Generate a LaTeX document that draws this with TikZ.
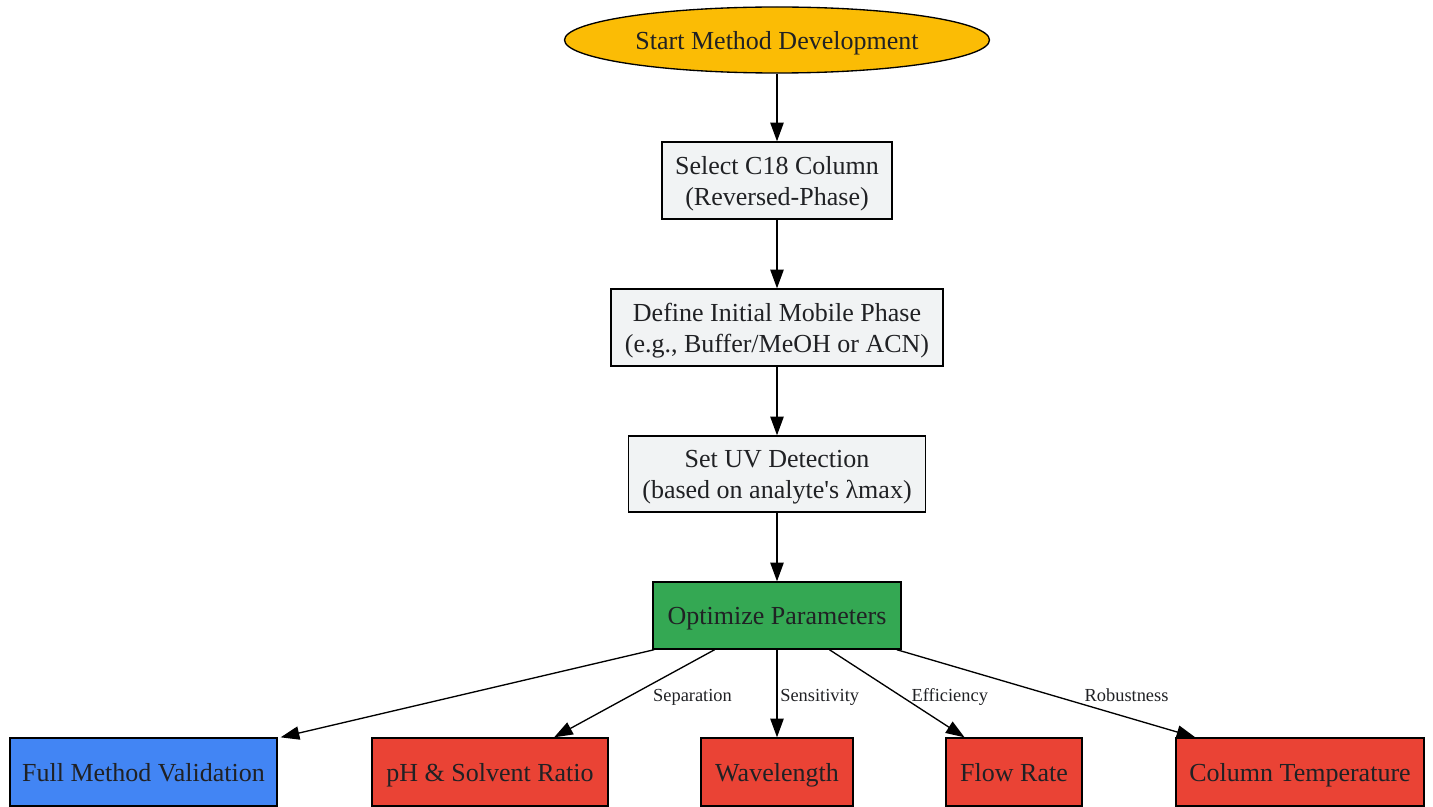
\documentclass[tikz,border=0pt]{standalone}
\usepackage{fontspec}
\setmainfont{Liberation Serif}
\usepackage{xcolor}
\usepackage{tikz}
\usetikzlibrary{calc,arrows.meta,shapes.geometric}
\definecolor{ink}{HTML}{202124}
\definecolor{startbg}{HTML}{FBBC05}
\definecolor{stepbg}{HTML}{F1F3F4}
\definecolor{optbg}{HTML}{34A853}
\definecolor{valbg}{HTML}{4285F4}
\definecolor{parbg}{HTML}{EA4335}
\tikzset{
  every node/.style={text=ink, font=\fontsize{19.5}{23.25}\selectfont},
  boxbase/.style={draw=black, line width=1pt, rectangle, align=center, inner sep=0pt, text depth=0pt},
  startnode/.style={draw=black, line width=1pt, ellipse, fill=startbg, inner sep=0pt, text depth=0pt,
    minimum width=318.75pt, minimum height=49.5pt},
  stepnode/.style={boxbase, fill=stepbg, minimum height=57.75pt},
  optnode/.style={boxbase, fill=optbg, minimum height=50.25pt},
  valnode/.style={boxbase, fill=valbg, minimum height=51pt},
  parnode/.style={boxbase, fill=parbg, minimum height=51pt},
  link/.style={draw=black, line width=1pt, -{Triangle[length=14pt,width=10pt]}},
  elab/.style={font=\fontsize{13.8}{16}\selectfont, anchor=base west, inner sep=0pt, yshift=-4.5pt},
}
\begin{document}
\begin{tikzpicture}[x=0.75pt, y=-0.75pt]
  \useasboundingbox (0,0) rectangle (1433,806);

  \node[startnode] (start) at (777,40) {Start Method Development};
  \node[stepnode, minimum width=172.5pt] (column) at (777,180.5)
    {Select C18 Column\\(Reversed-Phase)};
  \node[stepnode, minimum width=249pt] (mobile) at (777,327.5)
    {Define Initial Mobile Phase\\(e.g., Buffer/MeOH or ACN)};
  \node[stepnode, minimum width=222.75pt, minimum height=57pt] (uvdet) at (777,474)
    {Set UV Detection\\(based on analyte\textquotesingle s λmax)};
  \node[optnode, minimum width=186pt] (optim) at (777,615.5) {Optimize Parameters};

  \node[valnode, minimum width=200.25pt] (valid) at (143.5,772) {Full Method Validation};
  \node[parnode, minimum width=177pt] (phratio) at (490,772) {pH \& Solvent Ratio};
  \node[parnode, minimum width=114pt] (wavelen) at (777,772) {Wavelength};
  \node[parnode, minimum width=102pt] (flow) at (1014,772) {Flow Rate};
  \node[parnode, minimum width=186pt] (coltemp) at (1300,772) {Column Temperature};

  \draw[link] (start) -- (column);
  \draw[link] (column) -- (mobile);
  \draw[link] (mobile) -- (uvdet);
  \draw[link] (uvdet) -- (optim);

  \draw[link] ($(optim.south west)+(2,0)$) -- ($(valid.north east)+(3,0)$);
  \draw[link] ($(optim.south west)!0.25!(optim.south east)$)
    -- node[elab, pos=0.52, xshift=16pt] {Separation}
    ($(phratio.north west)!0.77!(phratio.north east)$);
  \draw[link] (optim) -- node[elab, pos=0.52, xshift=2pt] {Sensitivity} (wavelen);
  \draw[link] ($(optim.south west)!0.71!(optim.south east)$)
    -- node[elab, pos=0.52, xshift=8.5pt] {Efficiency}
    ($(flow.north west)!0.14!(flow.north east)$);
  \draw[link] ($(optim.south west)!0.98!(optim.south east)$)
    -- node[elab, pos=0.52, xshift=24pt] {Robustness}
    ($(coltemp.north west)!0.08!(coltemp.north east)$);
\end{tikzpicture}
\end{document}
